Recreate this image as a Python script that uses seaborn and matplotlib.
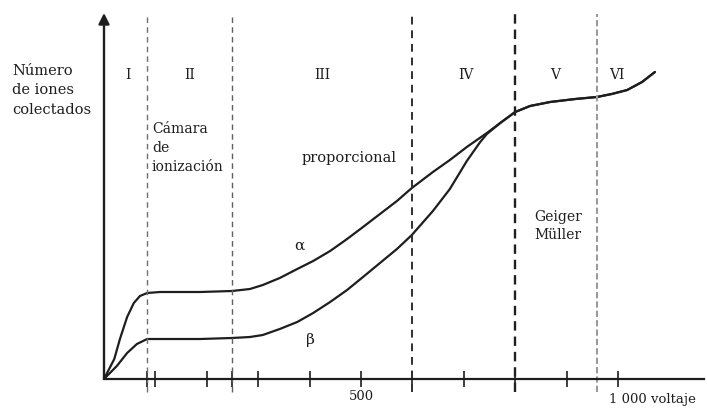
import matplotlib
matplotlib.use("Agg")
import matplotlib.pyplot as plt
import seaborn as sns
import pandas as pd

# curvas (voltaje, numero de iones, unidades arbitrarias)
alpha_v = [0, 20, 31, 45, 58, 70, 84, 109, 187, 249, 284, 309, 342, 376, 407, 440, 473, 504,
           537, 570, 599, 640, 673, 706, 745, 771, 800, 829, 868, 917, 959, 988, 1018, 1047, 1072]
alpha_n = [0, 20, 40, 62, 76, 83, 86, 87, 87, 88, 90, 94, 101, 110, 118, 128, 140, 152,
           165, 178, 191, 207, 219, 232, 246, 256, 267, 273, 277, 280, 282, 285, 289, 297, 307]
beta_v = [0, 25, 45, 64, 84, 187, 249, 284, 309, 342, 376, 407, 440, 473, 504, 537, 570, 599,
          640, 673, 706, 732, 745, 771, 800, 829, 868, 917, 959, 988, 1018, 1047, 1072]
beta_n = [0, 13, 26, 35, 40, 40, 41, 42, 44, 50, 57, 66, 77, 89, 102, 116, 130, 144,
          168, 190, 218, 237, 245, 256, 267, 273, 277, 280, 282, 285, 289, 297, 307]

limites = [83, 250, 600, 800, 960]
regiones = ["I", "II", "III", "IV", "V", "VI"]
regiones_x = [47, 167, 424, 704, 878, 998]
ticks = [83, 100, 200, 250, 300, 400, 500, 600, 700, 800, 900, 1000]

df = pd.concat([
    pd.DataFrame({"voltaje": alpha_v, "iones": alpha_n, "rad": "alpha"}),
    pd.DataFrame({"voltaje": beta_v, "iones": beta_n, "rad": "beta"}),
])

sns.set_style("white")
plt.rcParams["font.family"] = ["DejaVu Serif"]

fig = plt.figure(figsize=(7.07, 4.10), dpi=100)
ax = fig.add_axes([104 / 707, 30 / 410, 600 / 707, 365 / 410])
ink = "#1e1e1e"

sns.lineplot(data=df, x="voltaje", y="iones", units="rad", estimator=None,
             color=ink, lw=1.6, ax=ax, sort=False, legend=False)

ax.set_xlim(0, 1167.5)
ax.set_ylim(0, 365)

# lineas discontinuas de las regiones
estilos = [("#707070", 1.0, (0, (4, 3))), ("#606060", 1.0, (0, (4, 3))),
           ("#303030", 1.4, (0, (4, 3))), ("#202020", 1.7, (0, (4, 2.5))),
           ("#9a9a9a", 1.5, (0, (3, 1.5)))]
for xv, (c, w, ls) in zip(limites, estilos):
    ax.plot([xv, xv], [-13, 365], color=c, lw=w, linestyle=ls, clip_on=False)

for s in ["top", "right", "left"]:
    ax.spines[s].set_visible(False)
ax.spines["bottom"].set_linewidth(1.6)
ax.spines["bottom"].set_color(ink)
ax.annotate("", xy=(0, 366), xytext=(0, 0), xycoords="data",
            arrowprops=dict(arrowstyle="-|>", lw=1.7, color=ink, mutation_scale=16,
                            shrinkA=0, shrinkB=0), annotation_clip=False)

ax.set_xticks(ticks)
ax.set_xticklabels(["500" if t == 500 else "" for t in ticks], fontsize=9.5, color=ink)
ax.set_yticks([])
ax.tick_params(axis="x", bottom=True, direction="inout", length=11, width=1.2,
               color=ink, pad=2)
ax.set_xlabel("")
ax.set_ylabel("")
ax.text(983, -20, "1 000 voltaje", fontsize=9.5, color=ink, ha="left", va="center",
        clip_on=False)

for nombre, xv in zip(regiones, regiones_x):
    ax.text(xv, 305, nombre, fontsize=10, color=ink, ha="center", va="center")

ax.text(93, 258, "Cámara\nde\nionización", fontsize=10, color=ink, ha="left", va="top",
        linespacing=1.45)
ax.text(477, 222, "proporcional", fontsize=10.5, color=ink, ha="center", va="center")
ax.text(381, 134, "α", fontsize=11, color=ink, ha="center", va="center")
ax.text(401, 40, "β", fontsize=11, color=ink, ha="center", va="center")
ax.text(883, 154, "Geiger\nMüller", fontsize=10, color=ink, ha="center", va="center",
        linespacing=1.45)

fig.text(12 / 707, 1 - 64 / 410, "Número\nde iones\ncolectados", fontsize=10.5, color=ink,
         ha="left", va="top", linespacing=1.5)

fig.savefig("out.png", dpi=100)
